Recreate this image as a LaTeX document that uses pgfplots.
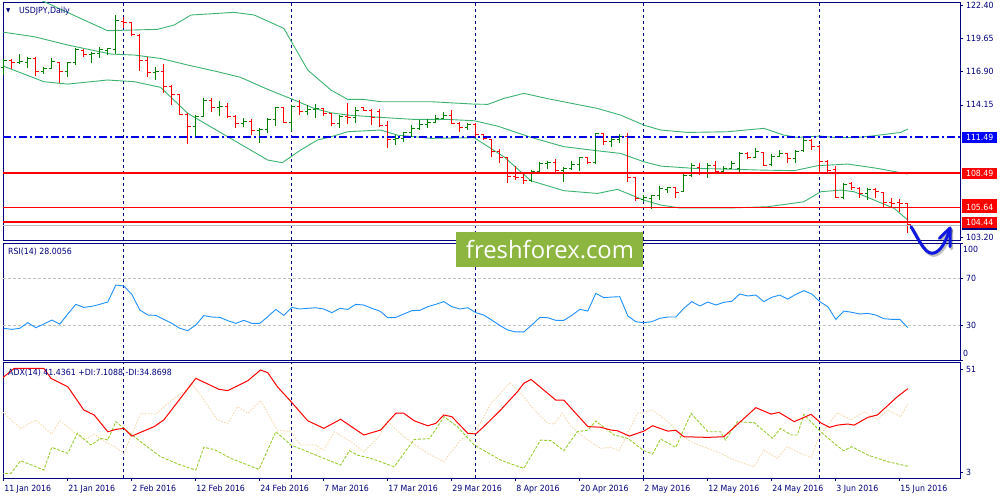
\documentclass[border=0pt]{standalone}
\usepackage{fontspec}
\setmainfont{DejaVu Sans}[FakeStretch=0.92]
\newfontfamily\wmfont{Open Sans}
\usepackage{graphicx}
\usepackage{pgfplots}
\pgfplotsset{compat=1.18}
\usepackage{pgfplotstable}

\definecolor{mtnavy}{RGB}{0,0,128}
\definecolor{upg}{RGB}{0,128,0}
\definecolor{dnr}{RGB}{255,0,0}
\definecolor{bbg}{RGB}{60,179,113}
\definecolor{rsib}{RGB}{30,144,255}
\definecolor{wheatc}{RGB}{245,218,170}
\definecolor{ygc}{RGB}{154,205,50}
\definecolor{wmg}{RGB}{141,182,65}
\definecolor{lblblue}{RGB}{0,0,255}
\definecolor{hlblue}{RGB}{0,0,230}
\definecolor{lvlgray}{RGB}{192,192,192}
\definecolor{penblue}{RGB}{15,25,225}

\newcommand\lbl{\fontsize{8.5}{10}\selectfont}

\pgfdeclareplotmark{otick}{\pgfpathmoveto{\pgfqpoint{-3pt}{0pt}}\pgfpathlineto{\pgfqpoint{0pt}{0pt}}\pgfusepathqstroke}
\pgfdeclareplotmark{ctick}{\pgfpathmoveto{\pgfqpoint{0pt}{0pt}}\pgfpathlineto{\pgfqpoint{3pt}{0pt}}\pgfusepathqstroke}

\pgfplotstableread{
i O H L C
0 117.25 117.97 116.64 117.8
2 117.65 118.37 117.6 117.75
3 117.65 118.15 117.18 118.0
5 116.9 117.32 116.71 117.2
6 117.2 118.01 117.18 117.75
8 116.9 117.74 116.44 117.7
9 117.7 118.84 117.46 118.75
11 118.3 118.56 117.6 118.45
12 118.4 118.98 118.01 118.75
13 118.65 118.9 118.29 118.8
14 118.75 121.61 118.37 121.14
19 116.85 117.32 116.22 116.95
24 112.35 113.31 111.57 113.23
25 113.2 114.69 113.15 114.56
27 113.95 114.5 113.23 114.05
30 112.6 113.04 112.34 112.8
32 112.0 112.21 110.96 112.15
33 112.15 113.04 111.85 112.95
34 112.95 114.0 112.4 113.95
36 112.7 114.14 112.01 114.0
38 113.6 114.14 113.31 113.75
39 113.75 114.22 113.04 113.85
42 112.6 113.31 112.21 113.2
44 113.1 113.95 112.68 113.7
49 111.3 111.65 110.8 111.4
50 111.4 111.93 111.1 111.85
51 111.85 112.48 111.51 112.2
52 112.2 112.9 112.07 112.5
53 112.5 112.95 112.21 112.7
54 112.7 113.31 112.68 113.05
55 113.05 113.59 113.0 113.3
58 112.3 112.62 112.07 112.55
66 107.85 108.75 107.78 108.6
67 108.6 109.39 108.47 109.3
68 109.3 109.5 108.81 109.35
70 108.7 109.03 107.78 108.85
71 108.85 109.5 108.75 109.2
72 109.2 109.86 108.7 109.8
74 109.4 111.79 109.22 111.75
76 111.1 111.51 110.63 111.3
77 111.3 111.71 110.96 111.5
80 106.3 106.68 106.12 106.45
81 106.4 106.68 105.49 106.6
82 106.6 107.45 106.26 107.2
83 107.1 107.37 106.81 107.3
85 107.0 108.53 106.95 108.3
86 108.3 109.3 108.2 109.1
88 108.5 109.3 108.11 109.1
90 108.6 109.11 108.47 108.9
91 108.9 109.52 108.85 109.3
92 108.9 110.27 108.61 110.1
94 109.8 110.55 109.75 110.25
96 109.2 110.08 109.11 109.9
97 109.9 110.41 109.85 110.15
99 109.7 110.41 109.36 110.3
100 110.35 111.51 110.3 111.2
105 106.5 107.64 106.32 107.55
108 106.8 107.23 106.26 107.1
}\upbars

\pgfplotstableread{
i O H L C
1 117.8 117.97 117.13 117.7
4 118.0 118.15 116.55 116.9
7 117.7 117.75 115.94 116.9
10 118.7 118.76 118.15 118.3
15 121.1 121.41 120.5 120.95
16 120.95 120.97 119.86 120.0
17 119.95 120.0 116.99 117.82
18 117.8 118.15 116.44 116.85
20 116.95 117.51 115.11 115.7
21 115.7 115.8 114.14 115.0
22 115.0 115.05 113.31 113.35
23 113.35 113.5 110.91 112.34
26 114.56 114.69 113.56 113.95
28 114.05 114.28 113.04 113.2
29 113.2 113.31 112.21 112.6
31 112.8 112.95 111.65 112.0
35 113.95 113.95 112.62 112.7
37 114.0 114.56 113.31 113.6
40 113.85 113.86 113.23 113.45
41 113.45 113.45 112.4 112.6
43 113.2 114.33 112.57 113.1
45 113.9 113.95 113.64 113.7
46 113.7 113.78 112.48 113.1
47 113.6 113.78 112.34 112.45
48 112.45 112.84 110.6 111.3
56 113.3 113.73 112.57 112.6
57 112.6 112.76 111.93 112.3
59 112.55 112.62 111.51 111.7
60 111.7 111.74 111.24 111.4
61 111.3 111.35 109.86 110.3
62 110.3 110.46 109.3 109.8
63 109.8 109.86 107.64 108.2
64 108.2 109.08 107.92 108.1
65 108.1 108.47 107.59 107.85
69 109.35 109.64 108.53 108.7
73 109.8 109.86 109.22 109.4
75 111.75 111.79 110.82 111.1
78 111.5 111.79 107.78 108.1
79 108.1 108.11 106.21 106.4
84 107.3 107.37 106.4 106.9
87 109.0 109.3 108.34 108.5
89 109.1 109.5 108.47 108.6
93 110.15 110.27 109.64 109.8
95 110.2 110.27 109.08 109.15
98 110.15 110.19 109.36 109.7
101 111.2 111.29 110.41 110.7
102 110.7 110.82 108.47 109.5
103 109.5 109.58 108.53 108.7
104 108.8 109.11 106.4 106.5
106 107.6 107.78 107.09 107.3
107 107.2 107.37 106.4 106.8
109 107.1 107.23 106.4 106.95
110 106.9 106.95 105.57 106.1
111 106.1 106.4 105.57 106.0
112 106.05 106.32 105.29 105.95
113 106.0 106.04 103.5 104.2
}\dnbars

\tikzset{
  lblbox/.style={anchor=west, xshift=2pt, inner sep=0pt, minimum width=35pt,
    minimum height=11pt, text=white, font=\lbl},
  sidelbl/.style={anchor=west, inner sep=0pt, xshift=3pt, font=\lbl, text=mtnavy},
}
\pgfplotsset{
  mt/.style={scale only axis, width=957pt, xmin=-0.1, xmax=119.525,
    axis line style={mtnavy, line width=0.9pt},
    xtick=\empty, ytick pos=right, yticklabel pos=right,
    tick align=outside, major tick length=3pt,
    tick style={mtnavy, line width=0.8pt},
    yticklabel style={font=\lbl, text=mtnavy, inner sep=0pt, xshift=3pt},
    clip mode=individual,
    extra x ticks={15,36,59,80,102}, extra x tick labels={},
    extra x tick style={grid=major, major tick length=0pt,
      major grid style={mtnavy, line width=0.9pt, dash pattern=on 3pt off 3pt}}},
  bars/.style={only marks, mark options={line width=1pt}},
}

\begin{document}
\begin{tikzpicture}
\fill[white] (0pt,0pt) rectangle (1000pt,500pt);

% ---------------- main price panel ----------------
\begin{axis}[mt, at={(3pt,498pt)}, anchor=north west, height=238pt,
  ymin=102.95, ymax=122.69,
  ytick={103.20,114.15,116.90,119.65,122.40},
  yticklabels={103.20,114.15,116.90,119.65,122.40}]
\addplot[bbg, line width=0.9pt] coordinates {(-0.4,124.37) (4.6,122.85) (12.96,120.31) (19.2,120.42) (21.3,120.78) (23.4,121.61) (28.8,121.83) (31.3,121.61) (35.0,120.5) (38.0,117.04) (40.9,115.38) (43.0,114.61) (45.0,114.61) (47.1,114.42) (53.4,114.42) (58.8,114.22) (60.5,114.2) (62.5,114.69) (65.0,115.11) (68.0,114.67) (74.2,113.86) (77.1,113.31) (80.0,112.48) (82.1,112.07) (85.5,111.87) (90.5,111.93) (95.0,112.21) (97.5,111.65) (99.2,111.46) (102.1,111.57) (103.8,111.46) (106.3,111.43) (108.8,111.6) (112.1,111.87) (113.0,112.15)};
\addplot[bbg, line width=0.9pt] coordinates {(-0.4,120.22) (3.8,119.81) (8.0,119.12) (13.4,118.37) (16.3,118.29) (19.6,118.01) (23.0,117.46) (26.7,116.91) (29.6,116.44) (33.0,115.44) (36.3,114.56) (38.8,113.86) (40.9,113.5) (43.0,113.31) (47.1,113.12) (51.3,112.95) (55.5,112.95) (58.8,112.84) (61.7,112.4) (65.9,111.46) (70.0,110.69) (74.2,110.35) (77.1,110.13) (80.0,109.44) (82.1,109.08) (86.3,108.89) (90.5,108.83) (94.6,108.75) (98.8,108.7) (101.7,109.11) (105.5,109.25) (109.2,108.89) (113.0,108.42)};
\addplot[bbg, line width=0.9pt] coordinates {(-0.4,117.46) (5.0,116.08) (8.0,115.88) (12.96,116.22) (16.3,116.08) (19.6,115.61) (23.0,113.45) (28.0,111.51) (33.0,109.58) (34.8,109.36) (37.1,110.41) (39.2,111.24) (40.9,111.51) (43.0,111.93) (47.1,112.07) (49.2,111.65) (53.4,111.38) (58.8,111.43) (62.5,109.86) (65.9,107.86) (70.0,107.04) (74.2,106.81) (76.7,107.15) (80.0,106.26) (82.1,105.85) (84.6,105.6) (90.5,105.6) (95.5,105.71) (100.0,106.12) (102.1,106.95) (104.6,107.09) (106.3,106.95) (108.8,106.26) (111.3,105.57) (113.0,104.6)};

\addplot[bars, mark=otick, upg, error bars/.cd, y dir=both, y explicit, error mark=none, error bar style={upg, line width=1pt}]
  table[x=i, y=O, y error plus expr=\thisrow{H}-\thisrow{O}, y error minus expr=\thisrow{O}-\thisrow{L}] {\upbars};
\addplot[bars, mark=ctick, upg] table[x=i, y=C] {\upbars};
\addplot[bars, mark=otick, dnr, error bars/.cd, y dir=both, y explicit, error mark=none, error bar style={dnr, line width=1pt}]
  table[x=i, y=O, y error plus expr=\thisrow{H}-\thisrow{O}, y error minus expr=\thisrow{O}-\thisrow{L}] {\dnbars};
\addplot[bars, mark=ctick, dnr] table[x=i, y=C] {\dnbars};

% horizontal levels
\addplot[lvlgray, line width=1pt] coordinates {(-0.1,104.19) (119.525,104.19)};
\addplot[hlblue, line width=1.3pt, dash pattern=on 8pt off 3pt on 2pt off 3pt] coordinates {(-0.1,111.49) (119.525,111.49)};
\addplot[red, line width=1.8pt] coordinates {(-0.1,108.49) (119.525,108.49)};
\addplot[red, line width=1.8pt] coordinates {(-0.1,105.64) (119.525,105.64)};
\addplot[red, line width=1.8pt] coordinates {(-0.1,104.44) (119.525,104.44)};

\node[lblbox, fill=lblblue] at (axis cs:119.525,111.49) {111.49};
\node[lblbox, fill=dnr] at (axis cs:119.525,108.49) {108.49};
\node[lblbox, fill=dnr] at (axis cs:119.525,105.89) {};
\node[lblbox, fill=dnr] at (axis cs:119.525,105.64) {105.64};
\node[lblbox, fill=mtnavy] at (axis cs:119.525,104.20) {};
\node[lblbox, fill=dnr] at (axis cs:119.525,104.44) {104.44};
\end{axis}

% ---------------- RSI panel ----------------
\begin{axis}[mt, at={(3pt,257pt)}, anchor=north west, height=117.5pt,
  ymin=0, ymax=100, ytick={0,30,70,100}, yticklabels={,30,70,}]
\draw[lvlgray, line width=0.9pt, dash pattern=on 3pt off 2pt] (axis cs:-0.1,70) -- (axis cs:119.525,70);
\draw[lvlgray, line width=0.9pt, dash pattern=on 3pt off 2pt] (axis cs:-0.1,30) -- (axis cs:119.525,30);
\addplot[rsib, line width=0.9pt] coordinates {
(0,27.4) (1,26.5) (2,27.4) (3,32.2) (4,27.9) (5,31.0) (6,34.4) (7,31.0) (8,39.6) (9,47.8)
(10,45.2) (11,46.1) (12,47.8) (13,49.8) (14,64.2) (15,63.4) (16,56.3) (17,43.0) (18,38.7) (19,38.4)
(20,35.0) (21,31.6) (22,27.4) (23,25.4) (24,30.2) (25,38.2) (26,37.0) (27,36.7) (28,33.9) (29,31.6)
(30,34.2) (31,31.6) (32,31.6) (33,37.3) (34,43.5) (35,38.4) (36,45.2) (37,43.8) (38,44.4) (39,44.9)
(40,43.8) (41,40.7) (42,44.4) (43,43.5) (44,47.8) (45,47.2) (46,44.4) (47,42.1) (48,36.4) (49,36.7)
(50,39.6) (51,42.4) (52,42.7) (53,45.8) (54,47.8) (55,50.1) (56,45.8) (57,43.8) (58,44.9) (59,40.7)
(60,38.7) (61,34.4) (62,29.8) (63,25.9) (64,24.3) (65,24.3) (66,30.2) (67,36.7) (68,36.4) (69,34.2)
(70,34.2) (71,38.4) (72,43.5) (73,42.1) (74,57.1) (75,53.5) (76,54.0) (77,54.3) (78,37.9) (79,33.0)
(80,32.2) (81,33.0) (82,35.9) (83,37.0) (84,37.0) (85,44.4) (86,50.1) (87,46.4) (88,49.8) (89,47.2)
(90,49.5) (91,50.4) (92,56.6) (93,54.9) (94,55.7) (95,50.1) (96,53.8) (97,55.7) (98,52.3) (99,56.3)
(100,59.4) (101,56.6) (102,50.1) (103,45.8) (104,35.0) (105,42.1) (106,41.0) (107,39.6) (108,40.1) (109,38.7)
(110,35.6) (111,35.0) (112,35.0) (113,28.0)};
\node[sidelbl] at (axis cs:119.525,94.9) {100};
\node[sidelbl] at (axis cs:119.525,6.4) {0};
\end{axis}

% ---------------- ADX panel ----------------
\begin{axis}[mt, at={(3pt,137.5pt)}, anchor=north west, height=116pt,
  ymin=0.31, ymax=54.16, ytick={3,51}, yticklabels={3,51},
  xtick={0,8,...,112}, xtick pos=bottom,
  xticklabels={11 Jan 2016,21 Jan 2016,2 Feb 2016,12 Feb 2016,24 Feb 2016,7 Mar 2016,17 Mar 2016,29 Mar 2016,8 Apr 2016,20 Apr 2016,2 May 2016,12 May 2016,24 May 2016,3 Jun 2016,15 Jun 2016},
  xticklabel style={font=\lbl, text=mtnavy, anchor=north west, inner sep=0pt, xshift=0.3pt, yshift=-3pt}]
\addplot[wheatc, line width=0.9pt, dash pattern=on 1.5pt off 1.5pt] coordinates {
(-0.4,32.1) (2.1,23.6) (4,27.45) (6,20.95) (7,27.1) (8.2,23.6) (10,18.16) (11.3,20.95) (12.1,18.5) (14,14.76) (15,11.97) (17.1,30.55) (19,30.2) (20.5,35.2) (23.6,43.71) (24.6,39.06) (26.7,27.45) (28,25.9) (29.2,33.65) (30.5,30.55) (32.1,36.43) (34.2,22.8) (35.9,22.0) (37.1,15.84) (39,15.84) (40,13.52) (41.3,22.03) (43.4,17.39) (45,12.74) (46.7,18.94) (48,26.68) (50,19.7) (53,11.97) (55,8.1) (57.1,18.16) (59.2,23.58) (60.9,35.2) (62.1,39.84) (63.2,44.79) (64.6,40.15) (66.3,32.1) (68,25.9) (68.8,25.6) (69.8,30.55) (70.9,24.36) (73,18.16) (74.6,14.29) (75.9,14.8) (76.9,13.21) (79.2,30.55) (81.1,32.1) (83,26.68) (84.6,20.49) (86.3,16.62) (88,14.29) (89.6,11.97) (91.3,8.87) (93.8,5.78) (95,13.52) (96.7,9.65) (97.9,15.07) (99.6,11.97) (100.9,10.11) (101.9,19.71) (104.2,30.86) (105.9,27.45) (107.5,31.32) (109.2,27.76) (110.5,32.1) (112.1,29.0) (113,34.87)};
\addplot[ygc, line width=0.9pt, dash pattern=on 3pt off 1.5pt] coordinates {
(-0.4,2.68) (0.9,2.68) (2.1,8.56) (3.8,6.09) (5,4.23) (6,14.76) (8,11.97) (9.2,21.26) (10.9,15.84) (12.1,18.94) (13,18.2) (14,26.68) (15,23.58) (17.1,17.39) (19.6,10.42) (22.1,6.55) (24,4.23) (25,14.76) (26.3,13.8) (28.4,9.65) (30.5,6.55) (31.9,4.54) (34,22.03) (35.9,15.84) (38,12.74) (40,9.65) (42.1,6.55) (43.2,13.21) (44.2,11.2) (45.9,9.65) (48.8,5.78) (51.3,18.47) (53.2,18.78) (55.05,29.0) (56.7,24.36) (58.8,15.84) (62.1,8.87) (63.8,6.55) (65,5.0) (67.1,18.16) (68.4,17.85) (70,13.21) (71.7,22.03) (73,22.8) (74,26.99) (76.3,20.49) (78,18.94) (80,13.21) (81.1,11.66) (82.1,18.63) (84,14.76) (85.9,30.55) (88,22.03) (89.6,22.03) (90.2,18.16) (91.7,26.68) (93.8,26.21) (96.1,18.94) (97.1,23.58) (98.4,20.49) (99.2,20.49) (100,30.08) (102.1,22.03) (104.2,15.38) (105,13.21) (106,15.07) (108,11.2) (110.5,8.1) (113,6.0)};
\addplot[dnr, line width=1pt] coordinates {
(-0.4,46.3) (1.3,51.45) (5.0,51.45) (5.9,46.8) (8,42.9) (10,32.1) (11.3,29.8) (13,22.0) (14,23.1) (15,23.6) (16,20.0) (18.8,24.4) (20,27.5) (24,46.8) (26.9,41.7) (28,41.1) (30.5,45.7) (32.1,50.7) (33,49.4) (34.2,42.9) (35.9,36.0) (38,27.1) (40,23.6) (42.1,27.8) (45,20.5) (47.1,22.8) (49,30.6) (50,30.6) (51.3,27.1) (53,24.8) (54,25.9) (55,29.8) (56,29.0) (58,21.3) (59,21.0) (60,24.4) (62.1,32.1) (64.2,40.6) (65,44.5) (65.9,46.3) (68,39.8) (69,36.7) (70,36.7) (73,24.4) (74.6,24.1) (75.9,22.8) (76.7,22.5) (78.2,20.0) (80,22.3) (81.1,24.8) (83,22.3) (84,22.7) (85,19.7) (88,19.4) (90,19.7) (94,33.2) (95.9,30.2) (96.9,31.0) (98.8,26.7) (100.9,30.1) (102.1,26.2) (103.2,24.05) (104.2,25.1) (105.5,25.6) (106.3,25.1) (108,28.7) (109.2,29.8) (111.7,38.3) (113,42.0)};
\end{axis}

% ---------------- texts and annotations ----------------
\node[anchor=west, inner sep=0pt, text=mtnavy, font=\fontsize{6}{7}\selectfont] at (6pt,489.5pt) {▼};
\node[anchor=west, inner sep=0pt, text=mtnavy, font=\lbl] at (19pt,489pt) {USDJPY,Daily};
\node[anchor=west, inner sep=0pt, text=mtnavy, font=\lbl] at (8pt,248pt) {RSI(14) 28.0056};
\node[anchor=west, inner sep=0pt, text=mtnavy, font=\lbl] at (8pt,127.5pt) {ADX(14) 41.4361 +DI:7.1088 -DI:34.8698};

\fill[wmg] (456pt,233.3pt) rectangle (642.7pt,268.3pt);
\node[text=white, inner sep=0pt] at (550pt,250pt) {\resizebox{168pt}{!}{\wmfont freshforex.com}};

\begin{scope}[xshift=1.5pt, yshift=-2pt]
\draw[black, opacity=0.25, line width=3.2pt, line cap=round, line join=round]
  (911pt,273.3pt) .. controls (918pt,262pt) and (924pt,247pt) .. (932pt,246.7pt) .. controls (940pt,247pt) and (946pt,258pt) .. (950pt,271.7pt);
\draw[black, opacity=0.25, line width=3.2pt, line cap=round, line join=round]
  (939.3pt,261.7pt) -- (950pt,272pt) -- (950pt,253.3pt);
\end{scope}
\draw[penblue, line width=3pt, line cap=round, line join=round]
  (911pt,273.3pt) .. controls (918pt,262pt) and (924pt,247pt) .. (932pt,246.7pt) .. controls (940pt,247pt) and (946pt,258pt) .. (950pt,271.7pt);
\draw[penblue, line width=3pt, line cap=round, line join=round]
  (939.3pt,261.7pt) -- (950pt,272pt) -- (950pt,253.3pt);

\pgfresetboundingbox
\useasboundingbox (0pt,0pt) rectangle (1000pt,500pt);
\end{tikzpicture}
\end{document}
